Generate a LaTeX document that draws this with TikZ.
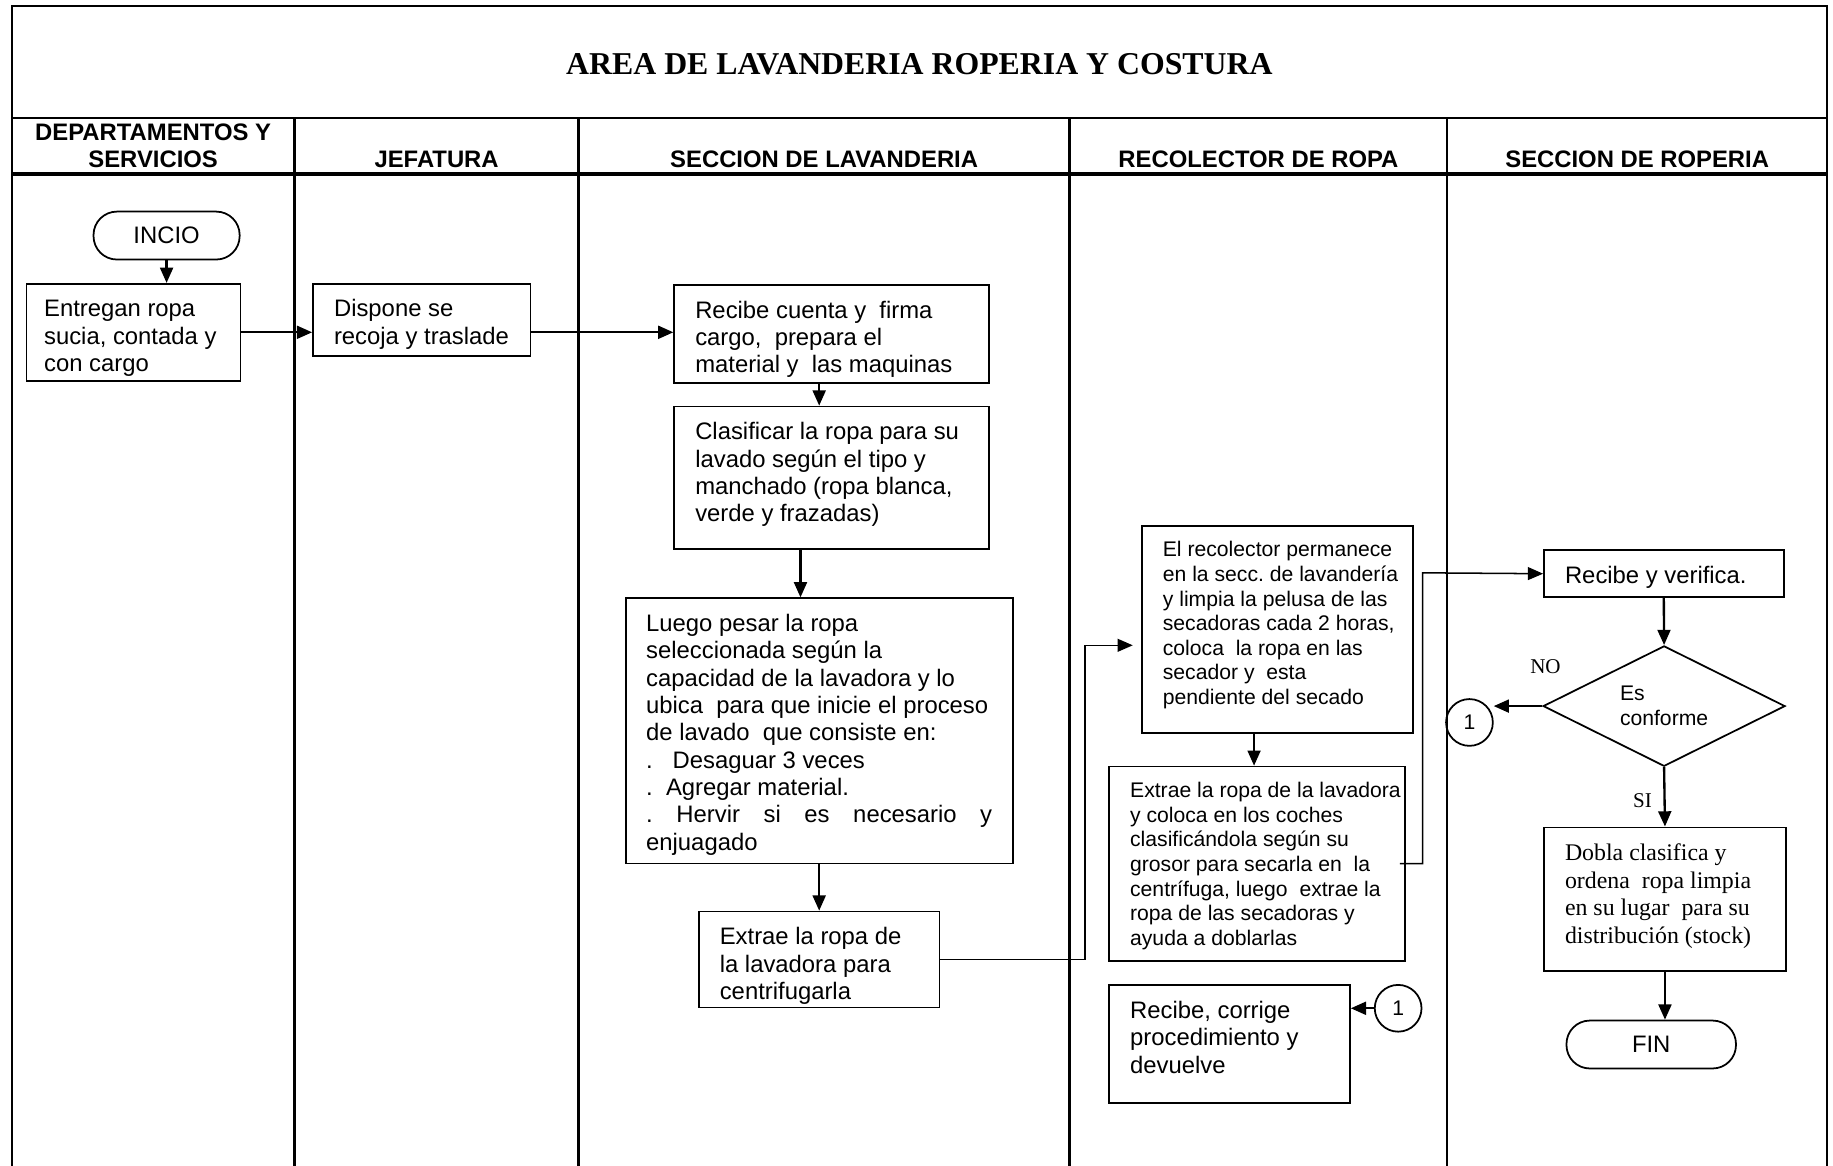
\documentclass[tikz,border=0pt]{standalone}
\usepackage{fontspec}
\setmainfont{Liberation Serif}
\setsansfont{Liberation Sans}
\usepackage{tikz}
\usetikzlibrary{shapes.geometric, arrows.meta, positioning, calc}
\frenchspacing
\newcommand{\txtA}{\sffamily\fontsize{20.4}{23.4}\selectfont}
\newcommand{\txtB}{\sffamily\fontsize{18.1}{21}\selectfont}
\newcommand{\txtT}{\rmfamily\fontsize{20.4}{23.5}\selectfont}
% width, height, left pad, right pad, lines
\newcommand{\boxtext}[5]{\parbox[c][#2][t]{#1}{\raggedright\leftskip=#3\rightskip=#4 plus 1fil\vspace*{12pt}\strut#5}}
\tikzset{
	procbox/.style={rectangle, draw=black, line width=1.5pt, inner sep=0pt, anchor=north west, font=\txtA},
	term/.style   ={rectangle, draw=black, line width=1.5pt, rounded corners=20pt, minimum height=41pt, inner sep=0pt, font=\txtA},
	decis/.style  ={diamond, aspect=2, draw=black, line width=1.5pt, minimum width=207pt, minimum height=103pt, inner sep=0pt, align=left, font=\txtB},
	conn/.style   ={circle, draw=black, line width=1.5pt, minimum size=40pt, inner sep=0pt, font=\txtB},
	head/.style   ={font=\sffamily\bfseries\fontsize{20.4}{23}\selectfont, align=center},
	lbl/.style    ={font=\rmfamily\fontsize{18}{21}\selectfont, inner sep=0pt},
	lane/.style   ={line width=2pt},
	arr/.style    ={-{Triangle[length=13pt, width=11pt]}, line width=2pt},
	thinarr/.style={-{Triangle[length=13pt, width=11pt]}, line width=1.3pt},
}
\begin{document}
\begin{tikzpicture}[x=1pt, y=-1pt]
	\useasboundingbox (0,0) rectangle (1568,997);
	% frame and swimlanes
	\draw[lane] (10,997) -- (10,5) -- (1563,5) -- (1563,997);
	\draw[lane] (10,101) -- (1563,101);
	\draw[line width=3pt] (10,149) -- (1563,149);
	\foreach \cx in {252,495,915,1238}
		\draw[lane] (\cx,101) -- (\cx,997);
	\node[font=\rmfamily\bfseries\fontsize{27.2}{30}\selectfont] (title) at (786.5,55) {AREA DE LAVANDERIA ROPERIA Y COSTURA};
	\node[head] (hDep) at (131,124.5) {DEPARTAMENTOS Y\\SERVICIOS};
	\node[head] (hJef) at (373.5,136) {JEFATURA};
	\node[head] (hLav) at (705,136) {SECCION DE LAVANDERIA};
	\node[head] (hRec) at (1076.5,136) {RECOLECTOR DE ROPA};
	\node[head] (hRop) at (1400.5,136) {SECCION DE ROPERIA};
	% steps
	\node[term, minimum width=125pt] (inicio) at (142.5,201.5) {INCIO};
	\node[procbox] (b1) at (22,242) {\boxtext{183pt}{83pt}{15pt}{0pt}{Entregan ropa\\sucia, contada y\\con cargo}};
	\node[procbox] (b2) at (267,242) {\boxtext{186pt}{62pt}{18pt}{0pt}{Dispone se\\recoja y traslade}};
	\node[procbox] (b3) at (576,243) {\boxtext{269pt}{84pt}{18pt}{0pt}{Recibe cuenta y\ \ firma\\cargo,\ \ prepara el\\material y\ \ las maquinas}};
	\node[procbox] (b4) at (576,347) {\boxtext{269pt}{122pt}{18pt}{0pt}{Clasificar la ropa para su\\lavado según el tipo y\\manchado (ropa blanca,\\verde y frazadas)}};
	\node[procbox] (b5) at (535,511) {\boxtext{331pt}{227pt}{17pt}{18pt}{Luego pesar la ropa\\seleccionada según la\\capacidad de la lavadora y lo\\ubica\ \ para que inicie el proceso\\de lavado\ \ que consiste en:\\.\ \ \ Desaguar 3 veces\\.\ \ Agregar material.\\.\hfill Hervir\hfill si\hfill es\hfill necesario\hfill y\\enjuagado}};
	\node[procbox] (b6) at (597,779) {\boxtext{206pt}{82pt}{18pt}{0pt}{Extrae la ropa de\\la lavadora para\\centrifugarla}};
	\node[procbox, font=\txtB] (b7) at (976,449) {\boxtext{232pt}{177pt}{18pt}{0pt}{El recolector permanece\\en la secc. de lavandería\\y limpia la pelusa de las\\secadoras cada 2 horas,\\coloca\ \ la ropa en las\\secador y\ \ esta\\pendiente del secado}};
	\node[procbox, font=\txtB] (b8) at (948,655) {\boxtext{253pt}{166pt}{18pt}{0pt}{Extrae la ropa de la lavadora\\y coloca en los coches\\clasificándola según su\\grosor para secarla en\ \ la\\centrífuga, luego\ \ extrae la\\ropa de las secadoras y\\ayuda a doblarlas}};
	\node[procbox] (b11) at (948,842) {\boxtext{206pt}{101pt}{18pt}{0pt}{Recibe, corrige\\procedimiento y\\devuelve}};
	\node[conn] (c2) at (1196,862.5) {1};
	\node[procbox] (b9) at (1320,470) {\boxtext{205pt}{40pt}{18pt}{0pt}{Recibe y verifica.}};
	\node[decis] (dec) at (1423.5,604) {Es\\conforme};
	\node[conn] (c1) at (1257,618) {1};
	\node[lbl] (lNo) at (1322,570) {NO};
	\node[lbl] (lSi) at (1405,685) {SI};
	\node[procbox, font=\txtT] (b10) at (1320,707) {\boxtext{207pt}{123pt}{18pt}{0pt}{Dobla clasifica y\\ordena\ \ ropa limpia\\en su lugar\ \ para su\\distribución (stock)}};
	\node[term, minimum width=145pt] (fin) at (1412.5,893.5) {FIN};
	% connectors
	\coordinate (j1) at (928,552);
	\coordinate (j2) at (1217,490);
	\draw[arr] (inicio.south) -- (inicio.south |- b1.north);
	\draw[arr] (b1.east) -- (b1.east -| b2.west);
	\draw[arr] (b1.east -| b2.east) -- (b1.east -| b3.west);
	\draw[arr] ([xshift=-10.5pt]b3.south) -- ([xshift=-10.5pt]b3.south |- b4.north);
	\draw[arr] ([xshift=-26.5pt]b4.south) -- ([xshift=-26.5pt]b4.south |- b5.north);
	\draw[arr] (b6.north |- b5.south) -- (b6.north);
	\draw[thinarr, shorten >=7pt] (b6.east) -| (j1) -- (j1 -| b7.west);
	\draw[arr] ([xshift=-2.5pt]b8.north |- b7.south) -- ([xshift=-2.5pt]b8.north);
	\draw[thinarr] ([xshift=-5pt]b8.east) -| (j2) -- (b9.west);
	\draw[arr] (b9.south) -- (dec.north);
	\draw[arr] (dec.west) -- (dec.west -| c1.east);
	\draw[arr] (dec.south) -- (b10.north);
	\draw[arr] (b10.south) -- (b10.south |- fin.north);
	\draw[arr] (c2.west) -- (c2.west -| b11.east);
\end{tikzpicture}
\end{document}
